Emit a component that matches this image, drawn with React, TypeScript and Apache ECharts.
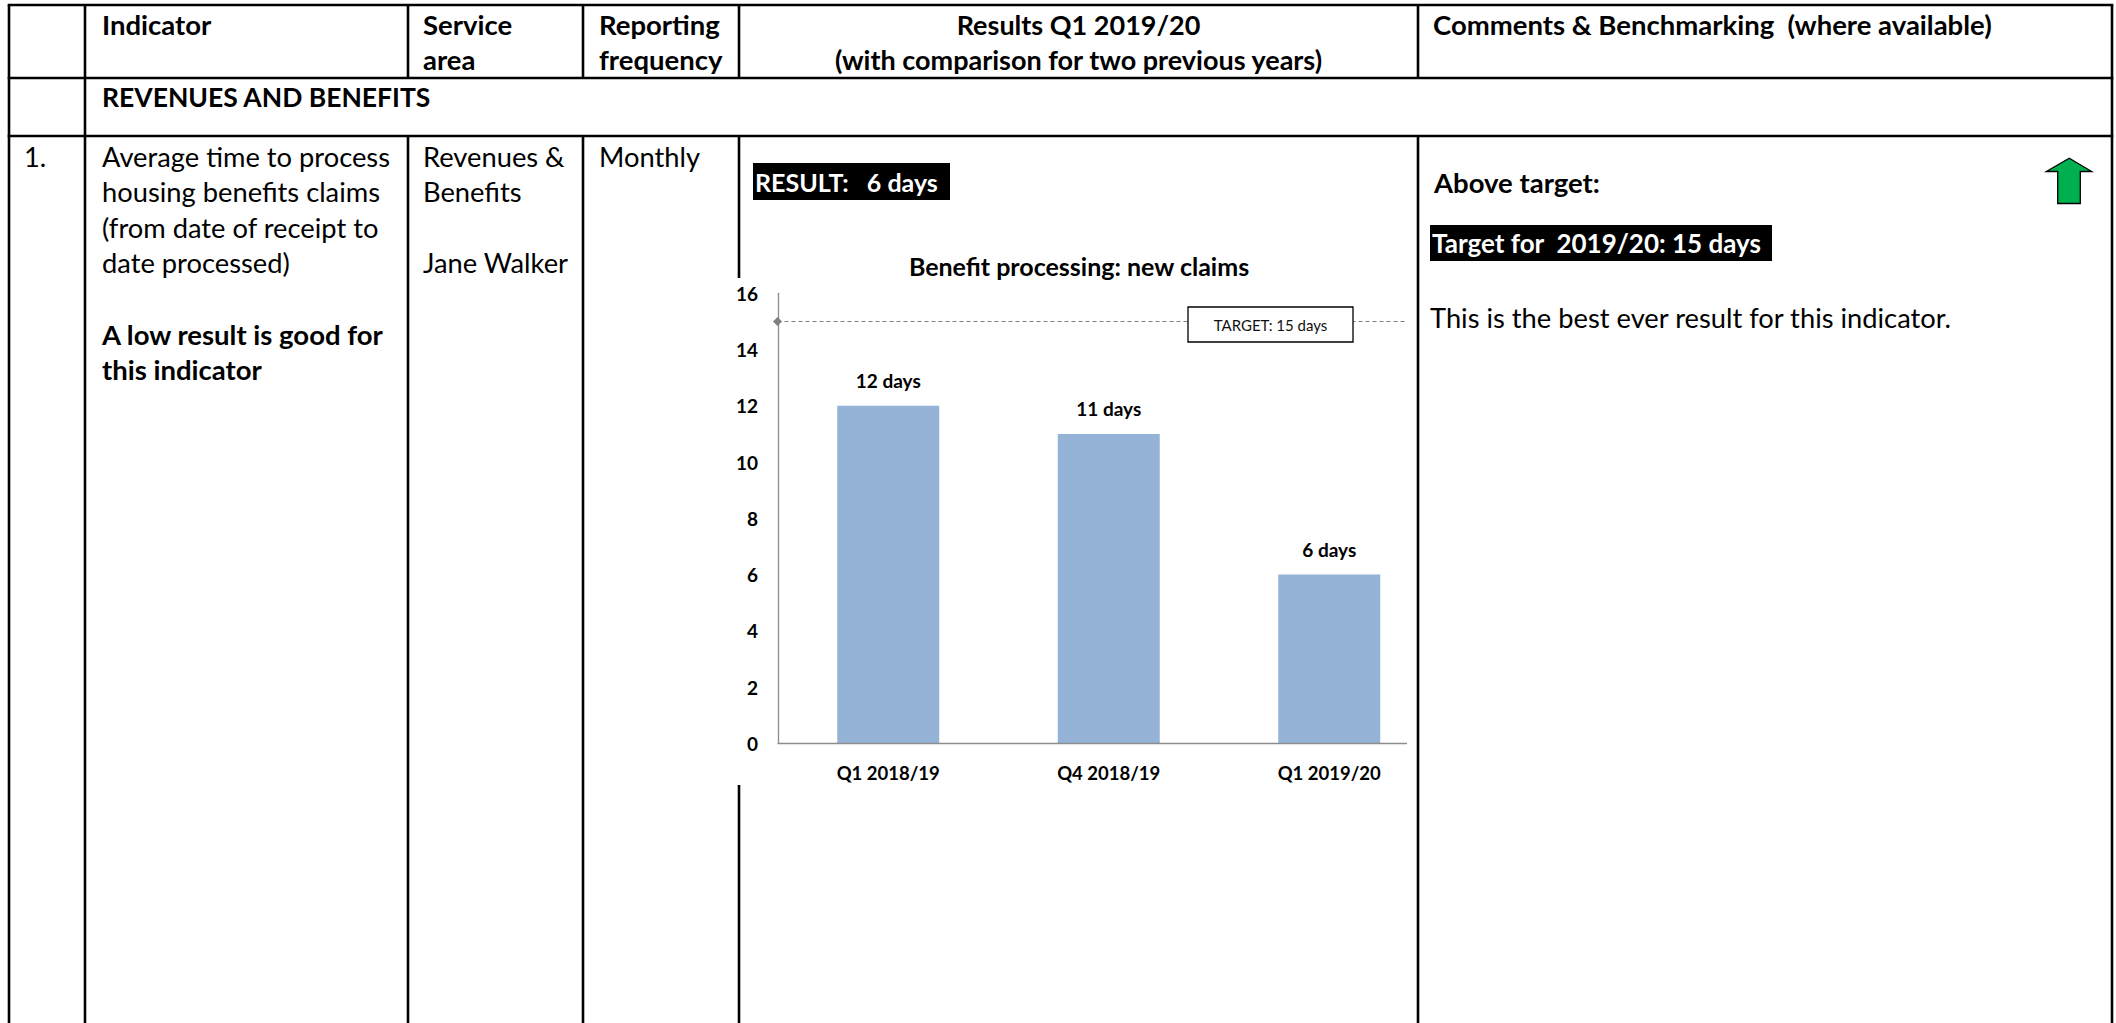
import React, { useEffect, useRef } from 'react';
import * as echarts from 'echarts';

// ---- chart data ----
const categories = ['Q1 2018/19', 'Q4 2018/19', 'Q1 2019/20'];
const daysValues = [12, 11, 6];
const targetValue = 15;
const yMin = 0;
const yMax = 16;
const yInterval = 2;

// ---- table texts ----
const headerIndicator = ['Indicator'];
const headerService = ['Service', 'area'];
const headerFreq = ['Reporting', 'frequency'];
const headerResults = ['Results Q1 2019/20', '(with comparison for two previous years)'];
const headerComments = ['Comments & Benchmarking  (where available)'];
const sectionTitle = 'REVENUES AND BENEFITS';
const rowNumber = '1.';
const indicatorLines = ['Average time to process', 'housing benefits claims', '(from date of receipt to', 'date processed)'];
const indicatorNote = ['A low result is good for', 'this indicator'];
const serviceLines = ['Revenues &', 'Benefits', '', 'Jane Walker'];
const frequencyText = 'Monthly';
const resultText = 'RESULT:   6 days';
const chartTitle = 'Benefit processing: new claims';
const targetLabel = 'TARGET: 15 days';
const statusText = 'Above target:';
const targetText = 'Target for  2019/20: 15 days';
const commentText = 'This is the best ever result for this indicator.';

const FONT = 'Lato, "Open Sans", sans-serif';
const BODY = 27.3;
const BOLD = 27.5;

function txt(x: number, y: number, text: string, size: number, bold: boolean, extra: any = {}) {
  return {
    type: 'text',
    x,
    y,
    silent: true,
    z: extra.z ?? 5,
    style: {
      text,
      fill: extra.fill ?? '#000',
      fontFamily: FONT,
      fontSize: size,
      fontWeight: bold ? 'bold' : 'normal',
      align: extra.align ?? 'left',
      verticalAlign: 'middle',
    },
  };
}

function ln(x1: number, y1: number, x2: number, y2: number, w = 2.6) {
  return {
    type: 'line',
    silent: true,
    z: 5,
    shape: { x1, y1, x2, y2 },
    style: { stroke: '#000', lineWidth: w },
  };
}

export default function App() {
  const ref = useRef<HTMLDivElement>(null);

  useEffect(() => {
    document.body.style.margin = '0';
    const chart = echarts.init(ref.current!, null, { renderer: 'svg' });

    // table geometry
    const colL = 9, c1 = 85, c2 = 408, c3 = 583, c4 = 739, c5 = 1418, colR = 2112;
    const top = 5, hb = 78, sb = 136, bottom = 1023;
    const L1 = 24, hStep = 35.5;
    const R1 = 156, step = 35.5;

    const graphics: any[] = [];
    // horizontal lines
    graphics.push(ln(colL - 1.3, top, colR + 1.3, top));
    graphics.push(ln(colL - 1.3, hb, colR + 1.3, hb));
    graphics.push(ln(colL - 1.3, sb, colR + 1.3, sb));
    // vertical lines
    graphics.push(ln(colL, top, colL, bottom));
    graphics.push(ln(c1, top, c1, bottom));
    graphics.push(ln(colR, top, colR, bottom));
    [c2, c3, c4, c5].forEach((c) => graphics.push(ln(c, top, c, hb)));
    [c2, c3, c5].forEach((c) => graphics.push(ln(c, sb, c, bottom)));
    graphics.push(ln(c4, sb, c4, 278));
    graphics.push(ln(c4, 785, c4, bottom));

    // header
    headerIndicator.forEach((t, i) => graphics.push(txt(102, L1 + i * hStep, t, BOLD, true)));
    headerService.forEach((t, i) => graphics.push(txt(423, L1 + i * hStep, t, BOLD, true)));
    headerFreq.forEach((t, i) => graphics.push(txt(599, L1 + i * hStep, t, BOLD, true)));
    headerResults.forEach((t, i) => graphics.push(txt((c4 + c5) / 2, L1 + i * hStep, t, 27, true, { align: 'center' })));
    headerComments.forEach((t, i) => graphics.push(txt(1433, L1 + i * hStep, t, BOLD, true)));

    // section
    graphics.push(txt(102, 97, sectionTitle, 26.5, true));

    // row 1
    graphics.push(txt(24, R1, rowNumber, BODY, false));
    indicatorLines.forEach((t, i) => graphics.push(txt(102, R1 + i * step, t, BODY, false)));
    indicatorNote.forEach((t, i) => graphics.push(txt(102, 334 + i * step, t, BOLD, true)));
    serviceLines.forEach((t, i) => t && graphics.push(txt(423, R1 + i * step, t, BODY, false)));
    graphics.push(txt(599, R1, frequencyText, BODY, false));

    // result box
    graphics.push({ type: 'rect', silent: true, z: 4, shape: { x: 753, y: 163, width: 197, height: 37 }, style: { fill: '#000' } });
    graphics.push(txt(755, 181.5, resultText, 25, true, { fill: '#fff' }));

    // chart title
    graphics.push(txt(1079, 266, chartTitle, 25, true, { align: 'center' }));

    // target annotation box
    graphics.push({ type: 'rect', silent: true, z: 20, shape: { x: 1188, y: 307, width: 165, height: 35 }, style: { fill: '#fff', stroke: '#000', lineWidth: 1.3 } });
    graphics.push(txt(1270.5, 324.5, targetLabel, 15, false, { align: 'center', z: 21, fill: '#111' }));

    // comments column
    graphics.push(txt(1434, 182, statusText, BOLD, true));
    graphics.push({ type: 'rect', silent: true, z: 4, shape: { x: 1430, y: 225, width: 342, height: 36 }, style: { fill: '#000' } });
    graphics.push(txt(1432, 243, targetText, 26, true, { fill: '#fff' }));
    graphics.push(txt(1430, 317, commentText, BODY, false));

    // green arrow
    graphics.push({
      type: 'polygon',
      silent: true,
      z: 5,
      shape: {
        points: [
          [2069.3, 158.3],
          [2091.7, 171.5],
          [2080.3, 171.5],
          [2080.3, 203.5],
          [2057.7, 203.5],
          [2057.7, 171.5],
          [2046.3, 171.5],
        ],
      },
      style: { fill: '#00B050', stroke: '#000', lineWidth: 1.3 },
    });

    const axisFont = { fontFamily: FONT, fontWeight: 'bold', color: '#000' };

    chart.setOption({
      animation: false,
      backgroundColor: '#fff',
      grid: { left: 778, top: 293.3, width: 661.5, height: 450, containLabel: false, outerBoundsMode: 'none' },
      xAxis: {
        type: 'category',
        data: categories,
        axisLine: { show: false },
        axisTick: { show: false },
        axisLabel: { ...axisFont, fontSize: 18.5, margin: 20 },
      },
      yAxis: {
        type: 'value',
        min: yMin,
        max: yMax,
        interval: yInterval,
        axisLine: { show: true, lineStyle: { color: '#8c8c8c', width: 1.3 } },
        axisTick: { show: false },
        splitLine: { show: false },
        axisLabel: { ...axisFont, fontSize: 19, margin: 20 },
      },
      series: [
        {
          type: 'bar',
          data: daysValues,
          barWidth: 102,
          itemStyle: { color: '#95B3D7' },
          label: {
            show: true,
            position: 'top',
            distance: 16,
            formatter: '{c} days',
            ...axisFont,
            fontSize: 19,
          },
          markLine: {
            silent: true,
            symbol: ['none', 'none'],
            label: { show: false },
            data: [
              [
                { x: 777.5, yAxis: targetValue, symbol: 'diamond', symbolSize: 9, lineStyle: { type: [4, 3], color: '#7f7f7f', width: 1.2 } },
                { x: 1407, yAxis: targetValue, symbol: 'none' },
              ],
              [
                { x: 777.5, yAxis: yMin, symbol: 'none', lineStyle: { type: 'solid', color: '#8c8c8c', width: 1.3 } },
                { x: 1407, yAxis: yMin, symbol: 'none' },
              ],
            ],
          },
        },
      ],
      graphic: { elements: graphics },
    });

    const svg = ref.current!.querySelector('svg');
    if (svg) (svg as SVGElement).style.whiteSpace = 'pre';

    return () => chart.dispose();
  }, []);

  return (
    <div
      ref={ref}
      style={{ position: 'absolute', left: 0, top: 0, width: 2116, height: 1023, background: '#fff' }}
    />
  );
}
